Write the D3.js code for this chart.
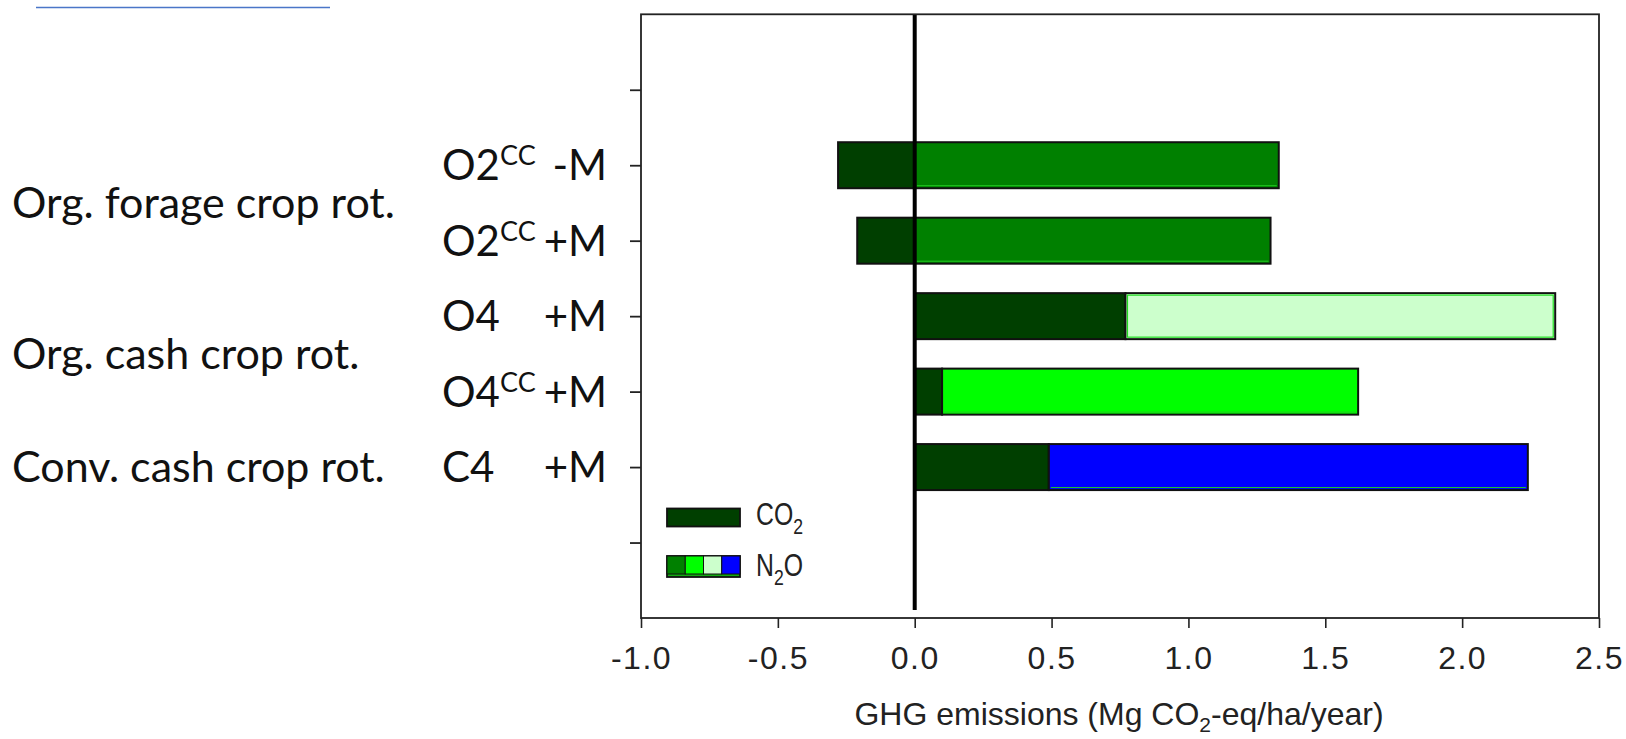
<!DOCTYPE html>
<html>
<head>
<meta charset="utf-8">
<script src="https://cdn.jsdelivr.net/npm/d3@7"></script>
<style>
  body { margin: 0; background: #fff; }
  svg { display: block; }
</style>
</head>
<body>
<script>
// Rotation treatments, top to bottom
const rotations   = ["O2CC -M", "O2CC +M", "O4 +M", "O4CC +M", "C4 +M"];
const codes       = ["O2", "O2", "O4", "O4", "C4"];
const superscripts = ["CC", "CC", "", "CC", ""];
const manure      = ["-M", "+M", "+M", "+M", "+M"];

// GHG emissions, Mg CO2-eq/ha/year
const co2 = [-0.28, -0.21, 0.77, 0.10, 0.49];
const n2o = [1.33, 1.30, 1.57, 1.52, 1.75];

const n2oColors = ["#008000", "#008000", "#ccffcc", "#00ff00", "#0000ff"];
const co2Color = "#003f00";

// Rotation groups and the treatments they span
const groups = ["Org. forage crop rot.", "Org. cash crop rot.", "Conv. cash crop rot."];
const groupSpans = [[0, 1], [2, 3], [4, 4]];

const xTicks = [-1.0, -0.5, 0.0, 0.5, 1.0, 1.5, 2.0, 2.5];

const W = 1626, H = 739;
const plot = { left: 641, right: 1599, top: 14.3, bottom: 618 };

const svg = d3.select("body").append("svg")
  .attr("width", W).attr("height", H)
  .attr("viewBox", `0 0 ${W} ${H}`);

const x = d3.scaleLinear().domain([-1.0, 2.5]).range([plot.left, plot.right]);
const y = d3.scalePoint()
  .domain(["_top", ...rotations, "_bottom"])
  .range([plot.top, plot.bottom])
  .padding(1);

const barH = 46;
const axisFont = "'Liberation Sans', Arial, sans-serif";
const labelFont = "Lato, 'Noto Sans', sans-serif";

// thin link rule at the top left
svg.append("line")
  .attr("x1", 36).attr("x2", 330).attr("y1", 7.5).attr("y2", 7.5)
  .attr("stroke", "#4a76c8").attr("stroke-width", 1.5);

// Bars: CO2 segment first, N2O stacked on the positive side
const rows = rotations.map((r, i) => ({
  r, i,
  co2: co2[i],
  n2oStart: Math.max(0, co2[i]),
  n2oEnd: Math.max(0, co2[i]) + n2o[i],
  color: n2oColors[i]
}));

const bars = svg.append("g");
rows.forEach(d => {
  const yc = y(d.r);
  const g = bars.append("g");
  g.append("rect")
    .attr("x", x(Math.min(0, d.co2)))
    .attr("width", Math.abs(x(d.co2) - x(0)))
    .attr("y", yc - barH / 2).attr("height", barH)
    .attr("fill", co2Color)
    .attr("stroke", "#111").attr("stroke-width", 2);
  g.append("rect")
    .attr("x", x(d.n2oStart))
    .attr("width", x(d.n2oEnd) - x(d.n2oStart))
    .attr("y", yc - barH / 2).attr("height", barH)
    .attr("fill", d.color)
    .attr("stroke", "#111").attr("stroke-width", 2);
  // bright inner edge of the N2O segment
  if (d.color === "#ccffcc") {
    g.append("rect")
      .attr("x", x(d.n2oStart) + 2).attr("width", x(d.n2oEnd) - x(d.n2oStart) - 4)
      .attr("y", yc - barH / 2 + 2).attr("height", barH - 4)
      .attr("fill", "none").attr("stroke", "#22dd22").attr("stroke-width", 1.2);
  } else {
    g.append("line")
      .attr("x1", x(d.n2oStart) + 2).attr("x2", x(d.n2oEnd) - 2)
      .attr("y1", yc + barH / 2 - 2.5).attr("y2", yc + barH / 2 - 2.5)
      .attr("stroke", "#22cc22").attr("stroke-width", 1);
  }
});

// Zero reference line
svg.append("line")
  .attr("x1", x(0)).attr("x2", x(0))
  .attr("y1", plot.top).attr("y2", plot.bottom - 8)
  .attr("stroke", "#000").attr("stroke-width", 4);

// Frame
svg.append("rect")
  .attr("x", plot.left).attr("y", plot.top)
  .attr("width", plot.right - plot.left).attr("height", plot.bottom - plot.top)
  .attr("fill", "none").attr("stroke", "#222").attr("stroke-width", 1.8);

// Y axis ticks (labels drawn separately)
const yAxis = svg.append("g")
  .attr("transform", `translate(${plot.left},0)`)
  .call(d3.axisLeft(y).tickSize(11).tickFormat(""));
yAxis.select(".domain").remove();
yAxis.selectAll(".tick line").attr("stroke", "#222").attr("stroke-width", 1.8);

// X axis
const xAxis = svg.append("g")
  .attr("transform", `translate(0,${plot.bottom})`)
  .call(d3.axisBottom(x).tickValues(xTicks).tickSize(10).tickFormat(d3.format(".1f")).tickPadding(18));
xAxis.select(".domain").remove();
xAxis.selectAll(".tick line").attr("stroke", "#222").attr("stroke-width", 1.6);
xAxis.selectAll(".tick text")
  .attr("font-family", axisFont).attr("font-size", 32)
  .attr("letter-spacing", 1.5)
  .attr("fill", "#222")
  .text(d => d3.format(".1f")(d).replace("−", "-"));

// X axis title with subscript
const title = svg.append("text")
  .attr("x", (plot.left + plot.right) / 2 - 1)
  .attr("y", 725)
  .attr("text-anchor", "middle")
  .attr("font-family", axisFont).attr("font-size", 32)
  .attr("fill", "#222");
title.append("tspan").text("GHG emissions (Mg CO");
title.append("tspan").attr("dy", 7).attr("font-size", 21).text("2");
title.append("tspan").attr("dy", -7).text("-eq/ha/year)");

// Category labels: code with superscript, manure tag right-aligned
rows.forEach((d, i) => {
  const t = svg.append("text")
    .attr("x", 442).attr("y", y(d.r) + 15)
    .attr("font-family", labelFont).attr("font-size", 42).attr("fill", "#111");
  t.append("tspan").text(codes[i]);
  if (superscripts[i]) t.append("tspan").attr("dy", -15).attr("font-size", 27).text(superscripts[i]);
  svg.append("text")
    .attr("x", 607).attr("y", y(d.r) + 15)
    .attr("text-anchor", "end")
    .attr("font-family", labelFont).attr("font-size", 42).attr("fill", "#111")
    .text(manure[i]);
});

// Group labels
groups.forEach((g, k) => {
  const [a, b] = groupSpans[k];
  const yc = (y(rotations[a]) + y(rotations[b])) / 2;
  svg.append("text")
    .attr("x", 12).attr("y", yc + 15)
    .attr("font-family", labelFont).attr("font-size", 43).attr("fill", "#111")
    .text(g);
});

// Legend
const legend = svg.append("g");
legend.append("rect")
  .attr("x", 667).attr("y", 508.5).attr("width", 73).attr("height", 18)
  .attr("fill", co2Color).attr("stroke", "#111").attr("stroke-width", 1.8);
const legendColors = ["#008000", "#00ff00", "#ccffcc", "#0000ff"];
legend.append("rect")
  .attr("x", 667).attr("y", 556).attr("width", 73).attr("height", 21)
  .attr("fill", "#11aa11").attr("stroke", "#111").attr("stroke-width", 1.8);
legendColors.forEach((c, k) => {
  legend.append("rect")
    .attr("x", 667 + k * 73 / 4).attr("y", 556).attr("width", 73 / 4).attr("height", 18)
    .attr("fill", c).attr("stroke", "#111").attr("stroke-width", 1);
});
const lt1 = legend.append("text")
  .attr("transform", "translate(756,525) scale(0.8,1)")
  .attr("font-family", axisFont).attr("font-size", 31).attr("fill", "#222");
lt1.append("tspan").text("CO");
lt1.append("tspan").attr("dy", 9).attr("font-size", 22).text("2");
const lt2 = legend.append("text")
  .attr("transform", "translate(756,576) scale(0.8,1)")
  .attr("font-family", axisFont).attr("font-size", 31).attr("fill", "#222");
lt2.append("tspan").text("N");
lt2.append("tspan").attr("dy", 9).attr("font-size", 22).text("2");
lt2.append("tspan").attr("dy", -9).text("O");
</script>
</body>
</html>
